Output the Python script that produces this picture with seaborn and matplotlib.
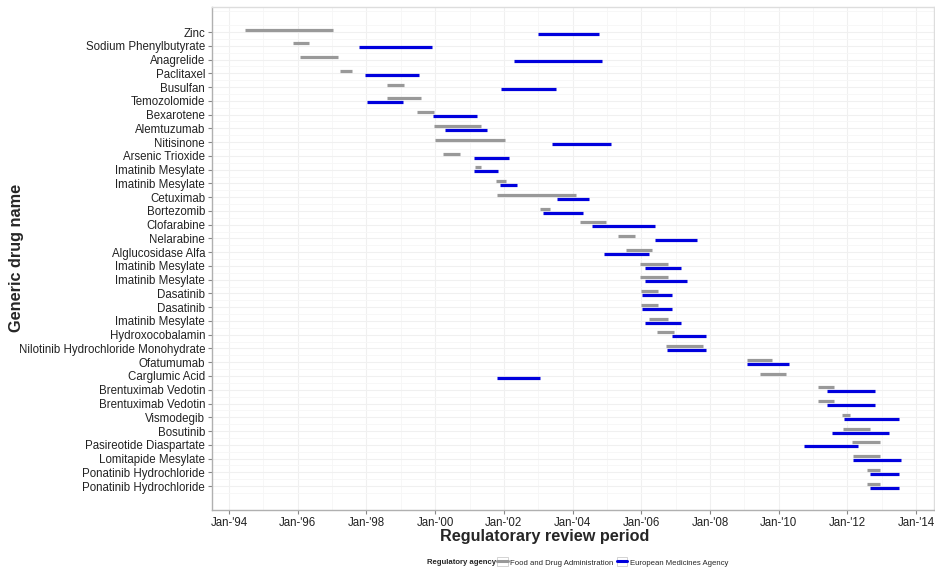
import matplotlib
matplotlib.use("Agg")
import matplotlib.pyplot as plt
from matplotlib.lines import Line2D
from matplotlib.patches import Patch
from matplotlib.legend_handler import HandlerTuple
import seaborn as sns
import pandas as pd
import numpy as np

drugs = ["Zinc", "Sodium Phenylbutyrate", "Anagrelide", "Paclitaxel", "Busulfan",
         "Temozolomide", "Bexarotene", "Alemtuzumab", "Nitisinone", "Arsenic Trioxide",
         "Imatinib Mesylate", "Imatinib Mesylate", "Cetuximab", "Bortezomib", "Clofarabine",
         "Nelarabine", "Alglucosidase Alfa", "Imatinib Mesylate", "Imatinib Mesylate",
         "Dasatinib", "Dasatinib", "Imatinib Mesylate", "Hydroxocobalamin",
         "Nilotinib Hydrochloride Monohydrate", "Ofatumumab", "Carglumic Acid",
         "Brentuximab Vedotin", "Brentuximab Vedotin", "Vismodegib", "Bosutinib",
         "Pasireotide Diaspartate", "Lomitapide Mesylate", "Ponatinib Hydrochloride",
         "Ponatinib Hydrochloride"]

# review periods in decimal years
fda_start = [1994.47, 1995.85, 1996.07, 1997.24, 1998.59, 1998.61, 1999.47, 1999.97, 1999.99, 2000.23,
             2001.16, 2001.78, 2001.81, 2003.05, 2004.23, 2005.32, 2005.56, 2005.97, 2005.97,
             2005.99, 2005.99, 2006.23, 2006.46, 2006.73, 2009.07, 2009.45, 2011.15, 2011.15,
             2011.85, 2011.87, 2012.12, 2012.16, 2012.57, 2012.57]
fda_end = [1997.03, 1996.32, 1997.18, 1997.58, 1999.09, 1999.59, 1999.98, 2001.33, 2002.03, 2000.72,
           2001.34, 2002.06, 2004.10, 2003.35, 2004.98, 2005.81, 2006.31, 2006.79, 2006.79,
           2006.48, 2006.48, 2006.79, 2006.95, 2007.81, 2009.81, 2010.20, 2011.62, 2011.62,
           2012.07, 2012.66, 2012.94, 2012.96, 2012.94, 2012.94]
ema_start = [2003.00, 1997.79, 2002.30, 1997.97, 2001.91, 1998.02, 1999.95, 2000.28, 2003.41, 2001.14,
             2001.14, 2001.88, 2003.54, 2003.14, 2004.56, 2006.39, 2004.91, 2006.12, 2006.12,
             2006.02, 2006.02, 2006.12, 2006.90, 2006.75, 2009.09, 2001.79, 2011.40, 2011.40,
             2011.90, 2011.56, 2010.73, 2012.16, 2012.65, 2012.65]
ema_end = [2004.77, 1999.92, 2004.87, 1999.52, 2003.51, 1999.06, 2001.23, 2001.50, 2005.13, 2002.16,
           2001.83, 2002.38, 2004.48, 2004.31, 2006.39, 2007.62, 2006.23, 2007.16, 2007.33,
           2006.88, 2006.88, 2007.16, 2007.89, 2007.88, 2010.29, 2003.05, 2012.81, 2012.81,
           2013.51, 2013.22, 2012.30, 2013.57, 2013.50, 2013.50]

agencies = ["Food and Drug Administration", "European Medicines Agency"]
tick_years = list(range(1994, 2015, 2))
tick_labels = ["Jan-'%02d" % (y % 100) for y in tick_years]

# long-form table: two points per segment
rows = []
offsets = {agencies[0]: -0.17, agencies[1]: 0.12}
for i in range(len(drugs)):
    for ag, s, e in ((agencies[0], fda_start[i], fda_end[i]), (agencies[1], ema_start[i], ema_end[i])):
        seg = f"{ag}-{i}"
        rows.append(dict(seg=seg, agency=ag, date=s, ypos=i + offsets[ag]))
        rows.append(dict(seg=seg, agency=ag, date=e, ypos=i + offsets[ag]))
df = pd.DataFrame(rows)

sns.set_theme(style="whitegrid")
plt.rcParams["font.family"] = ["Liberation Sans", "DejaVu Sans"]

palette = {agencies[0]: "#999999", agencies[1]: "#0000dd"}

fig = plt.figure(figsize=(9.35, 5.68), dpi=100)
ax = fig.add_axes([212 / 935, 1 - 510 / 568, (934 - 212) / 935, (510 - 7) / 568])

sns.lineplot(data=df, x="date", y="ypos", hue="agency", units="seg", estimator=None,
             sort=False, palette=palette, linewidth=2.3, legend=False, ax=ax)
for ln in ax.lines:
    ln.set_solid_capstyle("butt")

ax.set_xlim(1993.505, 2014.52)
ax.set_ylim(34.74, -1.82)
ax.set_xticks(tick_years)
ax.set_xticklabels(tick_labels, fontsize=8.3, color="#222222")
ax.set_xticks(list(range(1995, 2014, 2)), minor=True)
ax.set_yticks(list(range(len(drugs))))
ax.set_yticklabels(drugs, fontsize=8.3, color="#222222")
ax.set_yticks([i + 0.5 for i in range(-2, len(drugs))], minor=True)

ax.grid(True, which="major", color="#f0f0f0", linewidth=0.8)
ax.grid(True, which="minor", color="#f6f6f6", linewidth=0.6)
ax.set_axisbelow(True)
ax.tick_params(axis="both", which="major", length=3, width=0.8, color="#888888", pad=2, direction="out")
ax.tick_params(axis="both", which="minor", length=0)
ax.xaxis.set_ticks_position("bottom")
ax.yaxis.set_ticks_position("left")
for side in ["top", "right"]:
    ax.spines[side].set_color("#dddddd")
    ax.spines[side].set_linewidth(1.0)
for side in ["left", "bottom"]:
    ax.spines[side].set_color("#b0b0b0")
    ax.spines[side].set_linewidth(1.0)
ax.set_facecolor("white")

ax.set_xlabel("")
ax.set_ylabel("")
fig.text(545 / 935, 1 - 537 / 568, "Regulatorary review period", ha="center", va="center",
         fontsize=11.7, fontweight="bold")
fig.text(17 / 935, 1 - 258 / 568, "Generic drug name", ha="center", va="center",
         rotation=90, fontsize=11.7, fontweight="bold")

# legend
fig.text(496 / 935, 1 - 562 / 568, "Regulatory agency", ha="right", va="center",
         fontsize=5.6, fontweight="bold")
handles = [(Patch(facecolor="white", edgecolor="#cccccc", linewidth=0.6),
            Line2D([0], [0], color=palette[a], linewidth=2.2)) for a in agencies]
leg = fig.legend(handles, agencies, loc="center left", bbox_to_anchor=(497 / 935, 1 - 562 / 568),
                 ncol=2, fontsize=5.6, frameon=False, handlelength=1.4, handleheight=1.4,
                 handletextpad=0.3, columnspacing=0.4, borderpad=0.0, borderaxespad=0.0,
                 handler_map={tuple: HandlerTuple(ndivide=1, pad=0)})

fig.savefig("out.png", dpi=100, facecolor="white")
